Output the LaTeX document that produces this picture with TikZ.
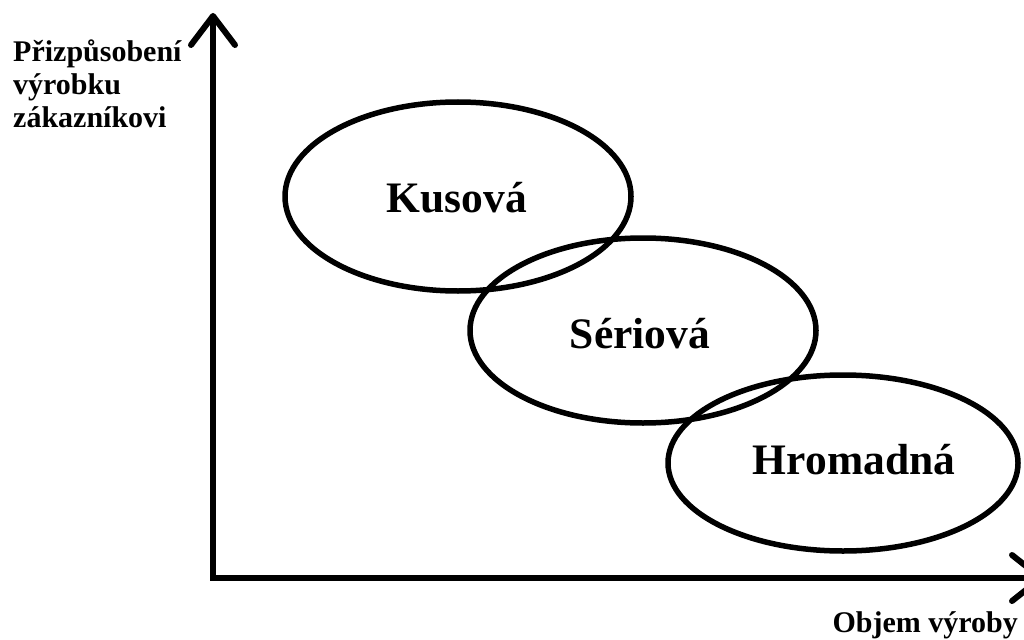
\documentclass[tikz,border=0pt]{standalone}
\usepackage{fontspec}
\setmainfont{Liberation Serif}
\usetikzlibrary{shapes.geometric,arrows.meta}
\begin{document}
\begin{tikzpicture}[x=1pt,y=-1pt,
  zone/.style={draw=black,line width=5.5pt,ellipse,inner sep=0pt},
  zonetext/.style={anchor=base,font=\fontsize{43.5}{48}\selectfont\bfseries},
  axislabel/.style={font=\fontsize{30}{33}\selectfont\bfseries,inner sep=0pt},
  axisline/.style={line width=6pt,line join=miter,
    arrows={{Straight Barb[length=29pt,width=44pt,line cap=round,line join=round]}-{Straight Barb[length=29pt,width=46pt,line cap=round,line join=round]}}}
]
\useasboundingbox (0,0) rectangle (1024,639);
\fill[white] (0,0) rectangle (1024,639);
% axes
\coordinate (O) at (213,578);
\coordinate (Ytip) at (213,13);
\coordinate (Xtip) at (1044,578);
\draw[axisline] (Ytip) -- (O) -- (Xtip);
% ellipses
\node[zone,minimum width=346pt,minimum height=189pt] (kus) at (458,196.5) {};
\node[zone,minimum width=346pt,minimum height=185pt] (ser) at (643,330.5) {};
\node[zone,minimum width=350pt,minimum height=176pt] (hro) at (843,463) {};
\node[zonetext] (kust) at (457,212) {Kusová};
\node[zonetext] (sert) at (640,348) {Sériová};
\node[zonetext] (hrot) at (854,474) {Hromadná};
% axis labels
\node[axislabel,anchor=base west] (yl1) at (13,62) {Přizpůsobení};
\node[axislabel,anchor=base west] (yl2) at (13,95) {výrobku};
\node[axislabel,anchor=base west] (yl3) at (13,128) {zákazníkovi};
\node[axislabel,anchor=base east] (xl) at (1018,632) {Objem výroby};
\end{tikzpicture}
\end{document}
